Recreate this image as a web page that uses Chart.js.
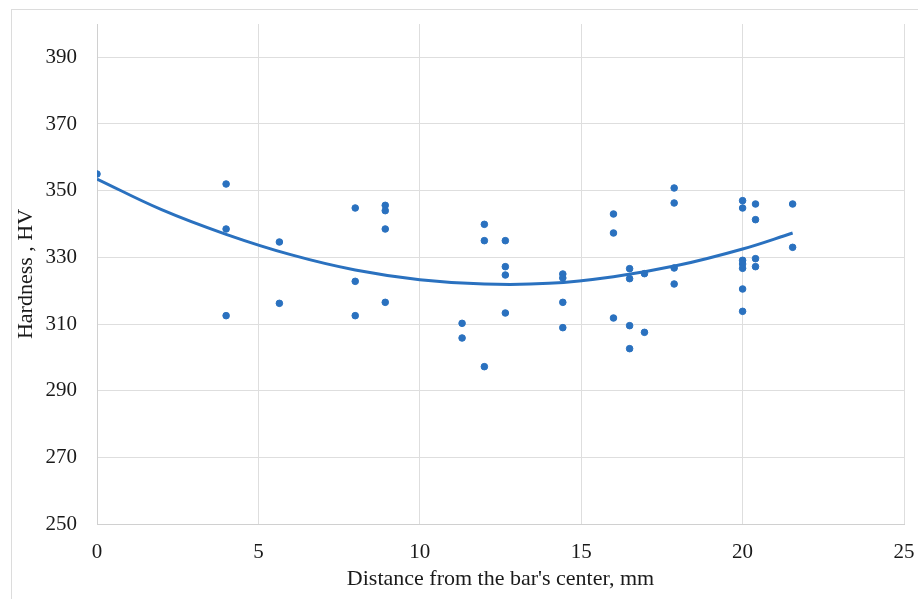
<!DOCTYPE html>
<html lang="en">
<head>
    <meta charset="UTF-8">
    <title>Hardness vs distance</title>
    <script src="https://cdn.jsdelivr.net/npm/chart.js"></script>
    <style>
        body {
            margin: 0;
            background: #fff;
        }
        .frame {
            position: absolute;
            left: 11px;
            top: 9px;
            width: 920px;
            height: 600px;
            border: 1px solid #dcdcdc;
            box-sizing: border-box;
        }
        .wrap {
            position: relative;
            width: 918px;
            height: 599px;
        }
    </style>
</head>
<body>
    <div class="frame"></div>
    <div class="wrap"><canvas id="hardnessChart"></canvas></div>

    <script>
        // measured points (distance in mm, hardness in HV)
        const distances = [
            0,
            4, 4, 4,
            5.65, 5.65,
            8, 8, 8,
            8.93, 8.93, 8.93, 8.93,
            11.31, 11.31,
            12, 12, 12,
            12.65, 12.65, 12.65, 12.65,
            14.43, 14.43, 14.43, 14.43,
            16, 16, 16,
            16.5, 16.5, 16.5, 16.5,
            16.96, 16.96,
            17.88, 17.88, 17.88, 17.88,
            20, 20, 20, 20, 20, 20, 20,
            20.4, 20.4, 20.4, 20.4,
            21.55, 21.55
        ];
        const hardness = [
            355,
            352, 338.5, 312.5,
            334.6, 316.2,
            344.8, 322.8, 312.5,
            345.6, 344, 338.5, 316.5,
            310.2, 305.8,
            339.9, 335, 297.2,
            335, 327.2, 324.7, 313.3,
            325, 323.8, 316.5, 308.9,
            343, 337.3, 311.8,
            326.6, 323.6, 309.5, 302.6,
            325.1, 307.5,
            350.8, 346.3, 326.8, 322,
            347, 344.8, 329.1, 328, 326.7, 320.5, 313.8,
            346, 341.3, 329.6, 327.2,
            346, 333
        ];

        // trend curve
        const trendX = [0, 2, 4, 6, 8, 10, 12, 14, 16, 18, 20, 21.55];
        const trendY = [353.5, 344.3, 336.9, 330.8, 326.2, 323.3, 322.0, 322.2, 324.2, 327.6, 332.5, 337.3];

        const yTicks = [250, 270, 290, 310, 330, 350, 370, 390];

        const blue = '#2a71bf';
        const fontFamily = "'Liberation Serif', 'Times New Roman', serif";

        const points = distances.map((d, i) => ({ x: d, y: hardness[i] }));
        const trend = trendX.map((d, i) => ({ x: d, y: trendY[i] }));

        new Chart(document.getElementById('hardnessChart'), {
            type: 'scatter',
            data: {
                datasets: [
                    {
                        data: points,
                        backgroundColor: blue,
                        borderColor: blue,
                        pointRadius: 3.3,
                        pointHoverRadius: 3.3,
                        order: 1
                    },
                    {
                        data: trend,
                        type: 'line',
                        showLine: true,
                        borderColor: blue,
                        borderWidth: 3,
                        pointRadius: 0,
                        tension: 0.4,
                        fill: false,
                        order: 2
                    }
                ]
            },
            options: {
                responsive: true,
                maintainAspectRatio: false,
                animation: false,
                layout: {
                    padding: { left: 10, right: 14, top: 24, bottom: 0 }
                },
                plugins: {
                    legend: { display: false },
                    tooltip: { enabled: false }
                },
                scales: {
                    x: {
                        type: 'linear',
                        min: 0,
                        max: 25,
                        ticks: {
                            stepSize: 5,
                            padding: 16,
                            color: '#1a1a1a',
                            font: { family: fontFamily, size: 21 }
                        },
                        grid: { color: '#dedede', drawTicks: false },
                        border: { color: '#d0d0d0' },
                        title: {
                            display: true,
                            text: "Distance from the bar's center, mm",
                            color: '#1a1a1a',
                            font: { family: fontFamily, size: 22 },
                            padding: { top: 0, bottom: 7 }
                        },
                        afterFit: scale => {
                            scale.height = 75;
                            scale.paddingLeft = 0;
                            scale.paddingRight = 0;
                        }
                    },
                    y: {
                        type: 'linear',
                        min: 250,
                        max: 400,
                        afterBuildTicks: scale => {
                            scale.ticks = yTicks.map(v => ({ value: v }));
                        },
                        ticks: {
                            padding: 20,
                            color: '#1a1a1a',
                            font: { family: fontFamily, size: 21 }
                        },
                        grid: { color: '#dedede', drawTicks: false },
                        border: { color: '#d0d0d0' },
                        title: {
                            display: true,
                            text: 'Hardness , HV',
                            color: '#1a1a1a',
                            font: { family: fontFamily, size: 22 },
                            padding: { top: 3, bottom: 0 }
                        },
                        afterFit: scale => {
                            scale.width = 87;
                            scale.paddingTop = 0;
                            scale.paddingBottom = 0;
                        }
                    }
                }
            }
        });
    </script>
</body>
</html>
